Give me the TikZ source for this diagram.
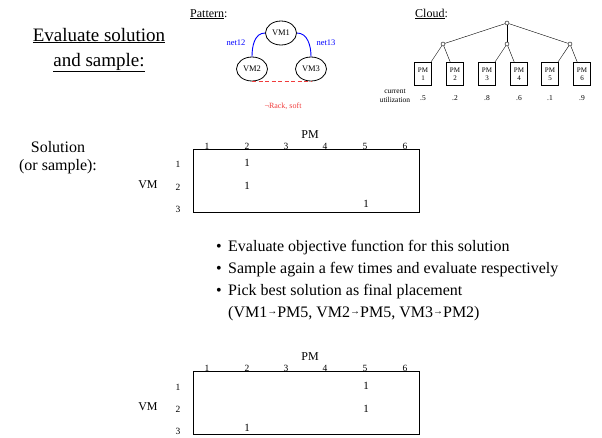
\documentclass[tikz,border=0pt]{standalone}
\usepackage{fontspec}
\setmainfont{Liberation Serif}
\usetikzlibrary{shapes.geometric, positioning}

\definecolor{softred}{RGB}{240,60,60}
\newcommand{\maparrow}{\raisebox{2.2pt}{\fontsize{10}{12}\selectfont→}}

\tikzset{
  vm/.style={draw, line width=0.8pt, ellipse, minimum width=31pt, minimum height=24pt, inner sep=0pt, font=\fontsize{8.5}{10}\selectfont},
  pmbox/.style={draw, line width=0.7pt, minimum width=17pt, minimum height=23pt, inner sep=0pt, align=center, font=\fontsize{7}{8.5}\selectfont},
  hub/.style={draw, circle, inner sep=0pt, minimum size=4pt},
  netlabel/.style={blue, font=\fontsize{8.5}{10}\selectfont},
  tiny/.style={font=\fontsize{7.5}{9}\selectfont},
  idx/.style={font=\fontsize{9.5}{11}\selectfont, anchor=base},
  entry/.style={font=\fontsize{11}{13}\selectfont},
  mid/.style={font=\fontsize{12}{14}\selectfont},
  big/.style={font=\fontsize{16}{18}\selectfont},
  bullettext/.style={font=\fontsize{16}{19}\selectfont, anchor=base west, inner sep=0pt},
  grid/.style={draw, minimum width=226pt, minimum height=63pt, inner sep=0pt, anchor=north west},
}

\begin{document}
\begin{tikzpicture}[x=1pt, y=-1pt]
\useasboundingbox (0,0) rectangle (602,437);

% Title
\node[font=\fontsize{19}{22}\selectfont, anchor=base] (title1) at (99,41) {\underline{Evaluate solution}};
\node[font=\fontsize{19}{22}\selectfont, anchor=base] (title2) at (99,66) {\underline{and sample:}};

% Pattern
\node[mid, anchor=base west, inner sep=0pt] (pattern) at (190,17) {\underline{Pattern}:};
\node[vm] (vma) at (281,33) {VM1};
\node[vm] (vmb) at (252,69) {VM2};
\node[vm] (vmc) at (311,69) {VM3};
\draw[blue, line width=0.9pt] (vma.west) to[out=180, in=90] (vmb.north);
\draw[blue, line width=0.9pt] (vma.east) to[out=0, in=90] (vmc.north);
\node[netlabel] (net12) at (236,43) {net12};
\node[netlabel] (net13) at (326,43) {net13};
\draw[color=softred, dash pattern=on 4pt off 2.5pt, line width=1.3pt] (vmb.south) -- (vmc.south);
\node[text=softred, font=\fontsize{8}{10}\selectfont] (rack) at (283,106) {¬Rack, soft};

% Cloud
\node[mid, anchor=base west, inner sep=0pt] (cloud) at (415,17) {\underline{Cloud}:};
\node[hub] (root) at (507,23) {};
\node[hub] (sw1) at (443,44) {};
\node[hub] (sw2) at (507,44) {};
\node[hub] (sw3) at (570,44) {};
\node[pmbox] (pm1) at (423,74) {PM\\1};
\node[pmbox] (pm2) at (455,74) {PM\\2};
\node[pmbox] (pm3) at (487,74) {PM\\3};
\node[pmbox] (pm4) at (519,74) {PM\\4};
\node[pmbox] (pm5) at (550,74) {PM\\5};
\node[pmbox] (pm6) at (582,74) {PM\\6};
\draw (root) -- (sw1);
\draw (root) -- (sw2);
\draw (root) -- (sw3);
\draw (sw1) -- (pm1);
\draw (sw1) -- (pm2);
\draw (sw2) -- (pm3);
\draw (sw2) -- (pm4);
\draw (sw3) -- (pm5);
\draw (sw3) -- (pm6);
\node[tiny, align=center] (util) at (395,96) {current\\utilization};
\node[tiny, below=6pt of pm1] (u1) {.5};
\node[tiny, below=6pt of pm2] (u2) {.2};
\node[tiny, below=6pt of pm3] (u3) {.8};
\node[tiny, below=6pt of pm4] (u4) {.6};
\node[tiny, below=6pt of pm5] (u5) {.1};
\node[tiny, below=6pt of pm6] (u6) {.9};

% Solution matrix
\node[big, align=center] (solution) at (58,158) {Solution\\(or sample):};
\node[grid] (sol) at (193,149) {};
\node[mid] (pmtop) at (310,135) {PM};
\node[mid] (vmtop) at (148,185) {VM};
\foreach \c/\x in {1/207, 2/247, 3/286, 4/325, 5/365, 6/405}
  \node[idx] (sc\c) at (\x,149) {\c};
\node[idx] (sr1) at (178,167) {1};
\node[idx] (sr2) at (178,190) {2};
\node[idx] (sr3) at (178,212) {3};
\node[entry] (s11) at (247,163) {1};
\node[entry] (s21) at (247,186) {1};
\node[entry] (s35) at (366,204) {1};

% Bullets
\node[bullettext] (b1) at (216,251) {•};
\node[bullettext] (t1) at (228,251) {Evaluate objective function for this solution};
\node[bullettext] (b2) at (216,273) {•};
\node[bullettext] (t2) at (228,273) {Sample again a few times and evaluate respectively};
\node[bullettext] (b3) at (216,295) {•};
\node[bullettext] (t3) at (228,295) {Pick best solution as final placement};
\node[bullettext] (t4) at (228,317) {(VM1\maparrow PM5, VM2\maparrow PM5, VM3\maparrow PM2)};

% Final placement matrix
\node[grid] (fin) at (193,371) {};
\node[mid] (pmbot) at (310,357) {PM};
\node[mid] (vmbot) at (148,407) {VM};
\foreach \c/\x in {1/207, 2/247, 3/286, 4/325, 5/365, 6/405}
  \node[idx] (fc\c) at (\x,371) {\c};
\node[idx] (fr1) at (178,390) {1};
\node[idx] (fr2) at (178,412) {2};
\node[idx] (fr3) at (178,434) {3};
\node[entry] (f15) at (366,386) {1};
\node[entry] (f25) at (366,409) {1};
\node[entry] (f32) at (247,428) {1};
\end{tikzpicture}
\end{document}
